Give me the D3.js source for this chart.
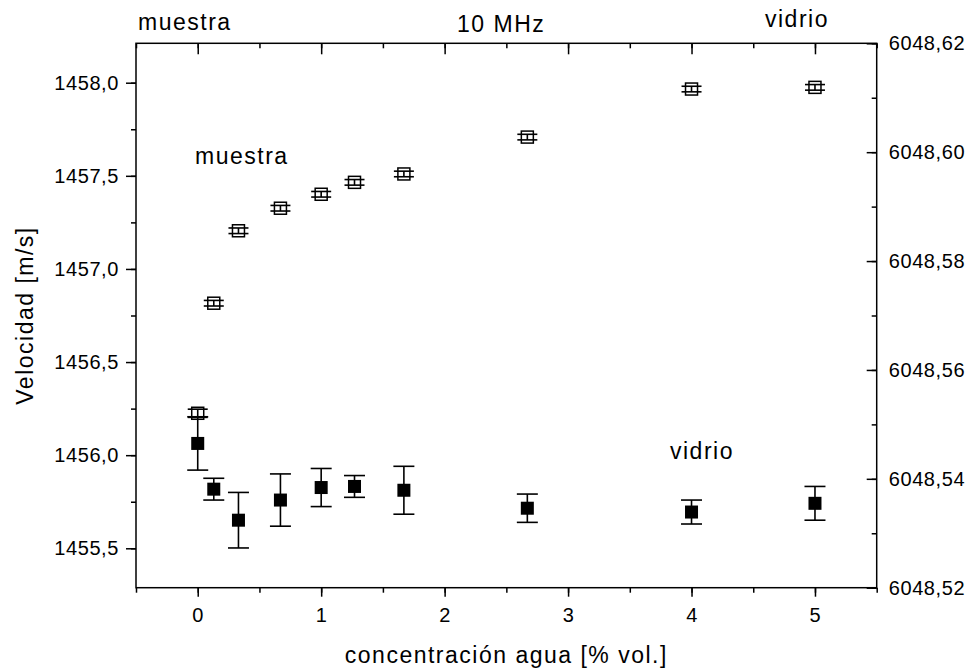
<!DOCTYPE html>
<html>
<head>
<meta charset="utf-8">
<script src="https://cdn.jsdelivr.net/npm/d3@7"></script>
<style>
  body { margin: 0; background: #fff; }
  text { font-family: "Liberation Sans", Arial, sans-serif; fill: #000; }
  .tick text { font-size: 20px; letter-spacing: 0.6px; }
  .lbl { font-size: 23px; letter-spacing: 1.5px; }
</style>
</head>
<body>
<script>
// velocidad del sonido en la muestra (eje izq.) y en el vidrio (eje der.) a 10 MHz
const conc = [0, 0.13, 0.33, 0.67, 1, 1.27, 1.67, 2.67, 4, 5];
const velMuestra = [1456.225, 1456.816, 1457.205, 1457.326, 1457.401, 1457.465, 1457.510, 1457.708, 1457.966, 1457.975];
const errMuestra = [0.022, 0.015, 0.015, 0.015, 0.015, 0.015, 0.015, 0.015, 0.015, 0.015];
const velVidrio = [6048.5465, 6048.5381, 6048.5324, 6048.5361, 6048.5384, 6048.5386, 6048.5379, 6048.5346, 6048.5339, 6048.5355];
const errVidrio = [0.0049, 0.0020, 0.0051, 0.0048, 0.0035, 0.0020, 0.0044, 0.0026, 0.0022, 0.0031];

const xTicks = [0, 1, 2, 3, 4, 5];
const leftTicks = [1455.5, 1456.0, 1456.5, 1457.0, 1457.5, 1458.0];
const rightTicks = [6048.52, 6048.54, 6048.56, 6048.58, 6048.60, 6048.62];

const margin = { top: 43.3, right: 94.3, bottom: 80.3, left: 136 },
    width = 971 - margin.left - margin.right,
    height = 668 - margin.top - margin.bottom;

const svg = d3.select("body").append("svg")
    .attr("width", 971)
    .attr("height", 668)
    .append("g")
    .attr("transform", `translate(${margin.left},${margin.top})`);

const x = d3.scaleLinear().domain([-0.5, 5.5]).range([0, width]);
const yL = d3.scaleLinear().domain([1455.2884, 1458.2116]).range([height, 0]);
const yR = d3.scaleLinear().domain([6048.52, 6048.62]).range([height, 0]);

const comma = f => v => d3.format(f)(v).replace(".", ",");

function styleAxis(g) {
    g.select(".domain").remove();
    g.selectAll(".tick line").attr("stroke", "#000").attr("stroke-width", 1.5);
}

// minor ticks first
svg.append("g").attr("transform", `translate(0,${height})`)
    .call(d3.axisBottom(x).tickValues(d3.range(-0.5, 5.51, 0.5)).tickSize(5).tickFormat(""))
    .call(styleAxis);
svg.append("g")
    .call(d3.axisTop(x).tickValues(d3.range(-0.5, 5.51, 0.5)).tickSize(-5).tickFormat(""))
    .call(styleAxis);
svg.append("g")
    .call(d3.axisLeft(yL).tickValues(d3.range(1455.5, 1458.01, 0.25)).tickSize(5).tickFormat(""))
    .call(styleAxis);
svg.append("g").attr("transform", `translate(${width},0)`)
    .call(d3.axisRight(yR).tickValues(d3.range(6048.52, 6048.621, 0.01)).tickSize(-5).tickFormat(""))
    .call(styleAxis);

// major ticks
svg.append("g").attr("transform", `translate(0,${height})`)
    .call(d3.axisBottom(x).tickValues(xTicks).tickSize(9).tickPadding(11).tickFormat(d3.format("d")))
    .call(styleAxis);
svg.append("g")
    .call(d3.axisTop(x).tickValues(xTicks).tickSize(-11).tickFormat(""))
    .call(styleAxis);
svg.append("g")
    .call(d3.axisLeft(yL).tickValues(leftTicks).tickSize(10).tickPadding(7).tickFormat(comma(".1f")))
    .call(styleAxis);
svg.append("g").attr("transform", `translate(${width},0)`)
    .call(d3.axisRight(yR).tickValues(rightTicks).tickSize(-10).tickPadding(12).tickFormat(comma(".2f")))
    .call(styleAxis);

// frame
svg.append("rect")
    .attr("width", width)
    .attr("height", height)
    .attr("fill", "none")
    .attr("stroke", "#000")
    .attr("stroke-width", 1.5);

// axis titles
svg.append("text")
    .attr("class", "lbl")
    .attr("text-anchor", "middle")
    .attr("x", width / 2)
    .attr("y", height + 75)
    .text("concentración agua [% vol.]");

svg.append("text")
    .attr("class", "lbl")
    .attr("text-anchor", "middle")
    .attr("transform", `translate(${33 - margin.left},${height / 2}) rotate(-90)`)
    .text("Velocidad [m/s]");

// labels
const labels = [
    { t: "muestra", x: 138, y: 30 },
    { t: "10 MHz", x: 457, y: 32 },
    { t: "vidrio", x: 765, y: 27 },
    { t: "muestra", x: 195, y: 164 },
    { t: "vidrio", x: 670, y: 459 }
];
svg.selectAll(".ann")
    .data(labels)
    .enter()
    .append("text")
    .attr("class", "lbl ann")
    .attr("x", d => d.x - margin.left)
    .attr("y", d => d.y - margin.top)
    .text(d => d.t);

const vid = conc.map((c, i) => ({ c, v: velVidrio[i], e: errVidrio[i] }));
const mue = conc.map((c, i) => ({ c, v: velMuestra[i], e: errMuestra[i] }));

function errorBars(data, y, cap) {
    const g = svg.append("g").attr("stroke", "#000").attr("stroke-width", 1.6);
    g.selectAll(".stem").data(data).enter().append("line")
        .attr("x1", d => x(d.c)).attr("x2", d => x(d.c))
        .attr("y1", d => y(d.v - d.e)).attr("y2", d => y(d.v + d.e));
    g.selectAll(".capT").data(data).enter().append("line")
        .attr("x1", d => x(d.c) - cap).attr("x2", d => x(d.c) + cap)
        .attr("y1", d => y(d.v + d.e)).attr("y2", d => y(d.v + d.e));
    g.selectAll(".capB").data(data).enter().append("line")
        .attr("x1", d => x(d.c) - cap).attr("x2", d => x(d.c) + cap)
        .attr("y1", d => y(d.v - d.e)).attr("y2", d => y(d.v - d.e));
}

// vidrio: filled squares, right axis
errorBars(vid, yR, 10.5);
svg.selectAll(".vsq")
    .data(vid)
    .enter()
    .append("rect")
    .attr("x", d => x(d.c) - 6.5)
    .attr("y", d => yR(d.v) - 6.5)
    .attr("width", 13)
    .attr("height", 13)
    .attr("fill", "#000");

// muestra: open squares, left axis
errorBars(mue, yL, 10);
svg.selectAll(".msq")
    .data(mue)
    .enter()
    .append("rect")
    .attr("x", d => x(d.c) - 6)
    .attr("y", d => yL(d.v) - 6)
    .attr("width", 12)
    .attr("height", 12)
    .attr("fill", "none")
    .attr("stroke", "#000")
    .attr("stroke-width", 1.5);
</script>
</body>
</html>
